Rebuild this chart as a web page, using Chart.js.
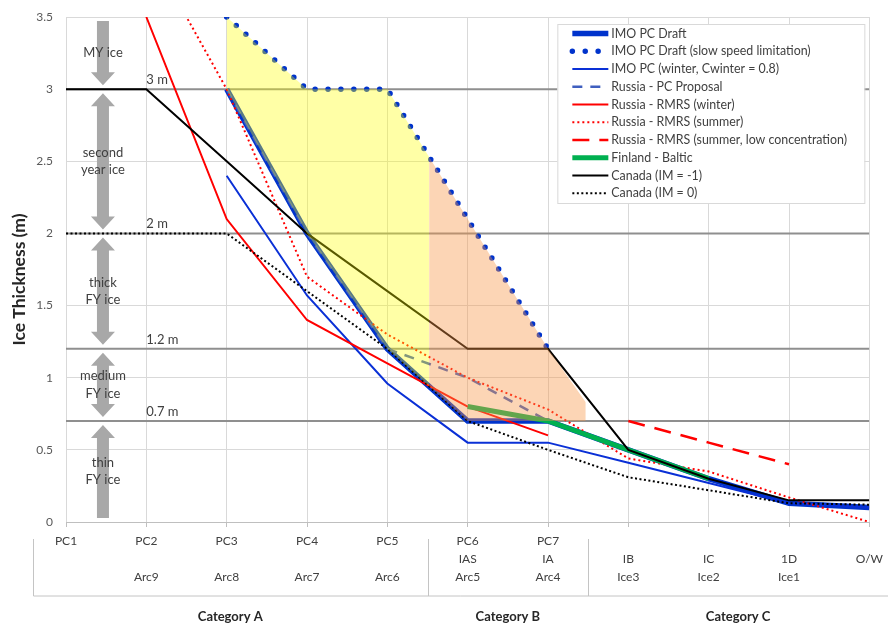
<!DOCTYPE html>
<html lang="en">
<head>
<meta charset="UTF-8">
<title>Ice thickness by ice class</title>
<style>
  html, body { margin: 0; padding: 0; background: #fff; }
  #wrap { width: 888px; height: 625px; }
</style>
</head>
<body>
<div id="wrap"><canvas id="chart" width="888" height="625"></canvas></div>
<script src="https://cdn.jsdelivr.net/npm/chart.js"></script>
<script>
  // class labels, three rows under the axis
  const rowPC      = ['PC1', 'PC2', 'PC3', 'PC4', 'PC5', 'PC6', 'PC7', '', '', '', ''];
  const rowFinnish = ['', '', '', '', '', 'IAS', 'IA', 'IB', 'IC', '1D', 'O/W'];
  const rowRussian = ['', 'Arc9', 'Arc8', 'Arc7', 'Arc6', 'Arc5', 'Arc4', 'Ice3', 'Ice2', 'Ice1', ''];
  const categoryNames = ['Category A', 'Category B', 'Category C'];
  const categoryBreaks = [4.5, 6.5];
  const yTitle = 'Ice Thickness (m)';

  // reference thickness levels and ice bands
  const refLevels = [3.0, 2.0, 1.2, 0.7];
  const refLabels = ['3 m', '2 m', '1.2 m', '0.7 m'];
  const bandEdges = [3.5, 3.0, 2.0, 1.2, 0.7, 0];
  const bandNames = [['MY ice'], ['second', 'year ice'], ['thick', 'FY ice'], ['medium', 'FY ice'], ['thin', 'FY ice']];

  // ice thickness (m) per class, PC1 ... O/W
  const imoDraft    = [null, null, 3.0, 2.0, 1.2, 0.7, 0.7, 0.5, 0.3, 0.13, 0.1];
  const imoSlow     = [null, null, 3.5, 3.0, 3.0, 2.1, 1.2, null, null, null, null];
  const imoWinter   = [null, null, 2.4, 1.57, 0.96, 0.55, 0.55, 0.41, 0.27, 0.13, 0.1];
  const russiaPC    = [null, null, 3.0, 2.0, 1.2, 1.0, 0.7, null, null, null, null];
  const rmrsWinter  = [null, 3.5, 2.1, 1.4, 1.1, 0.8, 0.6, null, null, null, null];
  const rmrsSummer  = [null, 4.0, 3.0, 1.7, 1.3, 1.0, 0.78, 0.44, 0.35, 0.17, 0.0];
  const rmrsLowConc = [null, null, null, null, null, null, null, 0.7, 0.55, 0.4, null];
  const finland     = [null, null, null, null, null, 0.8, 0.7, 0.5, 0.3, null, null];
  const canadaM1    = [3.0, 3.0, 2.5, 2.0, 1.6, 1.2, 1.2, 0.5, 0.3, 0.15, 0.15];
  const canada0     = [2.0, 2.0, 2.0, 1.6, 1.2, 0.7, 0.5, 0.31, 0.22, 0.13, 0.12];

  // shaded areas (yellow / peach)
  const yellowX      = [2, 3, 4, 4.52];
  const yellowTop    = [3.5, 3.0, 3.0, 2.53];
  const yellowBottom = [3.0, 2.0, 1.2, 0.94];
  const peachX       = [4.52, 5, 6, 6.47];
  const peachTop     = [2.53, 2.1, 1.2, 0.83];
  const peachBottom  = [0.94, 0.7, 0.7, 0.7];

  const series = [
    { label: 'IMO PC Draft', data: imoDraft, color: '#0033cc', width: 5.5 },
    { label: 'IMO PC Draft (slow speed limitation)', data: imoSlow, color: '#0033cc', width: 5.5, dash: [0, 12.9], cap: 'round' },
    { label: 'IMO PC (winter, Cwinter = 0.8)', data: imoWinter, color: '#0a30d6', width: 2 },
    { label: 'Russia - PC Proposal', data: russiaPC, color: '#3f5fbf', width: 2.5, dash: [10, 8] },
    { label: 'Russia - RMRS (winter)', data: rmrsWinter, color: '#ff0000', width: 2 },
    { label: 'Russia - RMRS (summer)', data: rmrsSummer, color: '#ff0000', width: 2, dash: [2, 3] },
    { label: 'Russia - RMRS (summer, low concentration)', data: rmrsLowConc, color: '#ff0000', width: 2.5, dash: [17, 10] },
    { label: 'Finland - Baltic', data: finland, color: '#00b050', width: 5 },
    { label: 'Canada (IM = -1)', data: canadaM1, color: '#000000', width: 2 },
    { label: 'Canada (IM = 0)', data: canada0, color: '#000000', width: 2, dash: [2, 2.5] }
  ];

  function toPoints(values) {
    return values.map((v, i) => v === null ? null : { x: i, y: v }).filter(p => p);
  }
  function zipPoints(xs, ys) {
    return xs.map((x, i) => ({ x: x, y: ys[i] }));
  }

  const clear = 'rgba(0,0,0,0)';
  const datasets = [
    { data: zipPoints(yellowX, yellowTop), borderColor: clear, borderWidth: 0, fill: { target: 1 }, backgroundColor: 'rgba(255,255,0,0.35)' },
    { data: zipPoints(yellowX, yellowBottom), borderColor: clear, borderWidth: 0, fill: false },
    { data: zipPoints(peachX, peachTop), borderColor: clear, borderWidth: 0, fill: { target: 3 }, backgroundColor: 'rgba(247,150,70,0.4)' },
    { data: zipPoints(peachX, peachBottom), borderColor: clear, borderWidth: 0, fill: false }
  ];
  // first dataset is drawn on top, so the last legend entry goes first
  series.slice().reverse().forEach(s => {
    datasets.push({
      label: s.label,
      data: toPoints(s.data),
      borderColor: s.color,
      borderWidth: s.width,
      borderDash: s.dash || [],
      borderCapStyle: s.cap || 'butt',
      fill: false
    });
  });
  refLevels.forEach(lvl => {
    datasets.push({ data: [{ x: 0, y: lvl }, { x: rowPC.length - 1, y: lvl }], borderColor: '#8f8f8f', borderWidth: 2, fill: false });
  });

  const iceAnnotations = {
    id: 'iceAnnotations',
    beforeDatasetsDraw(chart) {
      const ctx = chart.ctx;
      const xs = chart.scales.x, ys = chart.scales.y;
      const cx = xs.getPixelForValue(0.46);
      ctx.save();
      // gray band arrows
      ctx.fillStyle = '#a8a8a8';
      for (let i = 0; i < bandNames.length; i++) {
        const hasTop = bandEdges[i] < ys.max;
        const hasBottom = bandEdges[i + 1] > ys.min;
        const y1 = ys.getPixelForValue(bandEdges[i]) + 4;
        const y2 = ys.getPixelForValue(bandEdges[i + 1]) - 4;
        const sw = 6, hw = 12, hl = 13;
        ctx.beginPath();
        if (hasTop) {
          ctx.moveTo(cx, y1);
          ctx.lineTo(cx + hw, y1 + hl);
          ctx.lineTo(cx + sw, y1 + hl);
        } else {
          ctx.moveTo(cx - sw, y1);
          ctx.lineTo(cx + sw, y1);
        }
        if (hasBottom) {
          ctx.lineTo(cx + sw, y2 - hl);
          ctx.lineTo(cx + hw, y2 - hl);
          ctx.lineTo(cx, y2);
          ctx.lineTo(cx - hw, y2 - hl);
          ctx.lineTo(cx - sw, y2 - hl);
        } else {
          ctx.lineTo(cx + sw, y2);
          ctx.lineTo(cx - sw, y2);
        }
        if (hasTop) {
          ctx.lineTo(cx - sw, y1 + hl);
          ctx.lineTo(cx - hw, y1 + hl);
        }
        ctx.closePath();
        ctx.fill();
      }
      // band names
      ctx.fillStyle = '#404040';
      ctx.font = '13px Lato, "Open Sans", sans-serif';
      ctx.textAlign = 'center';
      ctx.textBaseline = 'middle';
      for (let i = 0; i < bandNames.length; i++) {
        const mid = ys.getPixelForValue((bandEdges[i] + bandEdges[i + 1]) / 2);
        const lines = bandNames[i];
        lines.forEach((t, k) => {
          ctx.fillText(t, cx, mid + (k - (lines.length - 1) / 2) * 17.5);
        });
      }
      // level labels
      ctx.textAlign = 'left';
      ctx.textBaseline = 'alphabetic';
      const lx = xs.getPixelForValue(1);
      refLevels.forEach((lvl, i) => {
        ctx.fillText(refLabels[i], lx, ys.getPixelForValue(lvl) - 5);
      });
      // y axis title, a little below the plot centre like the original
      ctx.translate(19, (chart.chartArea.top + chart.chartArea.bottom) / 2 + 10);
      ctx.rotate(-Math.PI / 2);
      ctx.textAlign = 'center';
      ctx.textBaseline = 'middle';
      ctx.fillStyle = '#262626';
      ctx.font = 'bold 17.5px Lato, "Open Sans", sans-serif';
      ctx.fillText(yTitle, 0, 0);
      ctx.restore();
    }
  };

  const boxLegend = {
    id: 'boxLegend',
    afterDraw(chart) {
      const ctx = chart.ctx;
      const area = chart.chartArea;
      const xs = chart.scales.x;
      ctx.save();
      // legend box
      const bx = area.right - 312, by = area.top + 7, bw = 307, bh = 179;
      ctx.fillStyle = '#ffffff';
      ctx.fillRect(bx, by, bw, bh);
      ctx.strokeStyle = '#d9d9d9';
      ctx.lineWidth = 1;
      ctx.strokeRect(bx + 0.5, by + 0.5, bw, bh);
      ctx.font = '12.4px Lato, "Open Sans", sans-serif';
      ctx.textBaseline = 'middle';
      ctx.textAlign = 'left';
      series.forEach((s, i) => {
        const y = by + 9.5 + i * 17.75;
        ctx.beginPath();
        ctx.strokeStyle = s.color;
        ctx.lineWidth = s.width;
        ctx.setLineDash(s.dash || []);
        ctx.lineCap = s.cap || 'butt';
        ctx.moveTo(bx + 15, y);
        ctx.lineTo(bx + 51, y);
        ctx.stroke();
        ctx.setLineDash([]);
        ctx.fillStyle = '#404040';
        ctx.fillText(s.label, bx + 54, y);
      });
      // category frame under the axis
      const left = area.left - 33, top = area.bottom + 17, base = area.bottom + 74;
      ctx.strokeStyle = '#c4c4c4';
      ctx.lineWidth = 1;
      ctx.lineCap = 'butt';
      ctx.beginPath();
      ctx.moveTo(left + 0.5, top);
      ctx.lineTo(left + 0.5, base);
      ctx.lineTo(chart.width, base);
      categoryBreaks.forEach(b => {
        const px = Math.round(xs.getPixelForValue(b)) + 0.5;
        ctx.moveTo(px, top);
        ctx.lineTo(px, base);
      });
      ctx.stroke();
      const edges = [left].concat(categoryBreaks.map(b => xs.getPixelForValue(b)), [chart.width]);
      ctx.fillStyle = '#262626';
      ctx.font = 'bold 13px Lato, "Open Sans", sans-serif';
      ctx.textAlign = 'center';
      categoryNames.forEach((name, i) => {
        ctx.fillText(name, (edges[i] + edges[i + 1]) / 2, area.bottom + 95);
      });
      ctx.restore();
    }
  };

  Chart.defaults.font.family = 'Lato, "Open Sans", sans-serif';
  Chart.defaults.color = '#595959';

  new Chart(document.getElementById('chart'), {
    type: 'line',
    data: { datasets: datasets },
    options: {
      responsive: false,
      animation: false,
      events: [],
      layout: { padding: { top: 17, right: 15, left: 0, bottom: 0 } },
      elements: { point: { radius: 0 }, line: { tension: 0 } },
      plugins: {
        legend: { display: false },
        tooltip: { enabled: false }
      },
      scales: {
        x: {
          type: 'linear',
          min: 0,
          max: rowPC.length - 1,
          afterFit: s => { s.height = 103; },
          grid: { color: '#d9d9d9', tickLength: 5, tickColor: '#bfbfbf' },
          border: { color: '#bfbfbf' },
          ticks: {
            stepSize: 1,
            autoSkip: false,
            maxRotation: 0,
            padding: 5,
            color: '#404040',
            font: { size: 12, lineHeight: 1.5 },
            callback: v => Number.isInteger(v) ? [rowPC[v], rowFinnish[v], rowRussian[v]] : ''
          }
        },
        y: {
          min: 0,
          max: 3.5,
          afterFit: s => { s.width = 66; s.paddingTop = 0; s.paddingBottom = 0; },
          grid: { color: '#d9d9d9', drawTicks: false },
          border: { display: false },
          ticks: { stepSize: 0.5, padding: 13, color: '#595959', font: { size: 12 }, callback: v => String(v) }
        }
      }
    },
    plugins: [iceAnnotations, boxLegend]
  });
</script>
</body>
</html>
